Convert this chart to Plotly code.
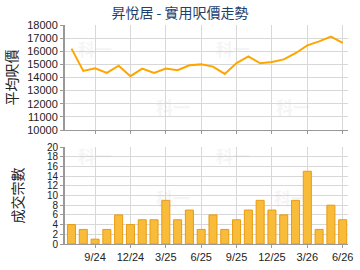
import plotly.graph_objects as go

months = ["7/24", "8/24", "9/24", "10/24", "11/24", "12/24", "1/25", "2/25", "3/25", "4/25",
          "5/25", "6/25", "7/25", "8/25", "9/25", "10/25", "11/25", "12/25", "1/26", "2/26",
          "3/26", "4/26", "5/26", "6/26"]
avg_price = [16200, 14500, 14700, 14350, 14900, 14100, 14680, 14350, 14680, 14550,
             14930, 15000, 14830, 14270, 15100, 15600, 15080, 15180, 15380, 15850,
             16450, 16750, 17120, 16630]
deals = [4, 3, 1, 3, 6, 4, 5, 5, 9, 5, 7, 3, 6, 3, 5, 7, 9, 7, 6, 9, 15, 3, 8, 5]
tick_labels = ["9/24", "12/24", "3/25", "6/25", "9/25", "12/25", "3/26", "6/26"]

title_text = "昇悅居 - 實用呎價走勢"
y1_title = "平均呎價"
y2_title = "成交宗數"

fig = go.Figure()
fig.add_trace(go.Scatter(x=months, y=avg_price, mode="lines",
                         line=dict(color="#FFA500", width=2), xaxis="x", yaxis="y",
                         hoverinfo="skip"))
fig.add_trace(go.Bar(x=months, y=deals, width=0.68,
                     marker=dict(color="#F8BC3A", line=dict(color="#E89B10", width=1)),
                     xaxis="x2", yaxis="y2", hoverinfo="skip"))

L, R, T, B = 65, 7, 25, 26
W, H = 360, 270
pw, ph = W - L - R, H - T - B

def px2paper(px, py):
    return (px - L) / pw, (H - B - py) / ph

grid = "#D8D8D8"
axc = "#999999"
cjk = "Noto Sans CJK TC, Liberation Sans, sans-serif"
tickfont = dict(family="Liberation Sans, Arial, sans-serif", size=11, color="#222222")
tickfont_small = dict(family="Liberation Sans, Arial, sans-serif", size=10, color="#222222")

xcommon = dict(type="category", range=[-0.55, 23.45], tickmode="array", tickvals=tick_labels,
               showgrid=True, gridcolor=grid, gridwidth=1, showline=True, linecolor=axc,
               linewidth=1, ticks="outside", ticklen=3, tickcolor=axc, zeroline=False,
               tickfont=tickfont, fixedrange=True)

top_bottom = (H - B - 130) / ph
bot_top = (H - B - 147) / ph

fig.update_layout(
    width=W, height=H, margin=dict(l=L, r=R, t=T, b=B),
    paper_bgcolor="white", plot_bgcolor="white", showlegend=False,
    font=dict(family=cjk),
    xaxis=dict(xcommon, domain=[0, 1], anchor="y", showticklabels=False),
    yaxis=dict(domain=[top_bottom, 1], range=[10000, 18000], dtick=1000, anchor="x",
               tickformat="d",
               showgrid=True, gridcolor=grid, showline=True, linecolor=axc, linewidth=2,
               ticks="outside", ticklen=3, tickcolor=axc, zeroline=False,
               tickfont=tickfont, fixedrange=True,
               title=dict(text=y1_title, font=dict(family=cjk, size=14, color="#222222"),
                          standoff=6)),
    xaxis2=dict(xcommon, domain=[0, 1], anchor="y2"),
    yaxis2=dict(domain=[0, bot_top], range=[0, 20], dtick=2, anchor="x2",
                showgrid=True, gridcolor=grid, showline=True, linecolor=axc, linewidth=2,
                ticks="outside", ticklen=3, tickcolor=axc, zeroline=False,
                tickfont=tickfont_small, fixedrange=True,
                title=dict(text=y2_title, font=dict(family=cjk, size=14, color="#222222"),
                           standoff=20)),
    title=dict(text=title_text, x=0.5, xanchor="center", y=1 - 13 / H, yanchor="middle",
               font=dict(family=cjk, size=14, color="#1F3F6F")),
)

marks = [(76, 34), (236, 34), (156, 92), (316, 92), (76, 155), (236, 155), (156, 212), (314, 212)]
for (mx, my) in marks:
    ax_, ay_ = px2paper(mx, my)
    fig.add_annotation(text="<b>科一</b>", x=ax_, y=ay_, xref="paper", yref="paper",
                       showarrow=False, font=dict(family=cjk, size=17, color="#BBBBBB"),
                       opacity=0.13)

fig.write_html("out.html")
